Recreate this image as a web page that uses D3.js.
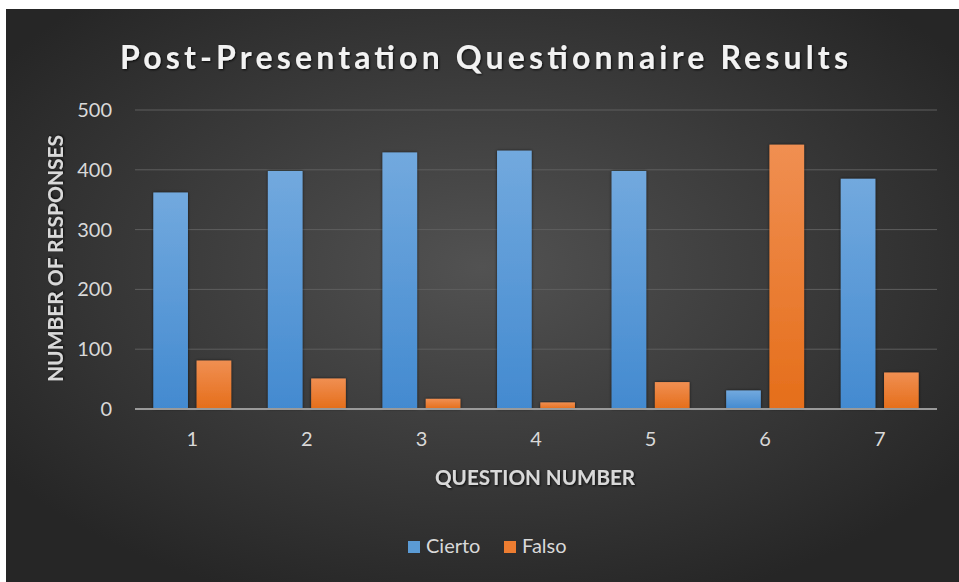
<!DOCTYPE html>
<html>
<head>
<meta charset="utf-8">
<script src="https://cdn.jsdelivr.net/npm/d3@7"></script>
<style>
  body { margin: 0; background: #fff; }
  text { font-family: Lato, "Open Sans", sans-serif; }
</style>
</head>
<body>
<div id="chart-area"></div>
<script>
// data
const questions = ["1", "2", "3", "4", "5", "6", "7"];
const cierto = [362, 398, 429, 432, 398, 31, 385];
const falso = [81, 51, 17, 11, 45, 442, 61];
const seriesNames = ["Cierto", "Falso"];
const yTicks = [0, 100, 200, 300, 400, 500];

const width = 959, height = 582;
const margin = {top: 110, right: 22, bottom: 173, left: 135};

const svg = d3.select("#chart-area").append("svg")
    .attr("width", width)
    .attr("height", height);

const defs = svg.append("defs");

// background radial gradient
let bg = defs.append("radialGradient")
    .attr("id", "bg")
    .attr("cx", "50%").attr("cy", "45%").attr("r", "62%");
bg.append("stop").attr("offset", "0%").attr("stop-color", "#525252");
bg.append("stop").attr("offset", "100%").attr("stop-color", "#262626");

// bar gradients
let blue = defs.append("linearGradient").attr("id", "gBlue")
    .attr("x1", 0).attr("y1", 0).attr("x2", 0).attr("y2", 1);
blue.append("stop").attr("offset", "0%").attr("stop-color", "#72a9de");
blue.append("stop").attr("offset", "100%").attr("stop-color", "#438ad0");

let orange = defs.append("linearGradient").attr("id", "gOrange")
    .attr("x1", 0).attr("y1", 0).attr("x2", 0).attr("y2", 1);
orange.append("stop").attr("offset", "0%").attr("stop-color", "#f08f52");
orange.append("stop").attr("offset", "100%").attr("stop-color", "#e56e1a");

let shadow = defs.append("filter").attr("id", "shadow")
    .attr("x", "-20%").attr("y", "-20%").attr("width", "140%").attr("height", "140%");
shadow.append("feDropShadow")
    .attr("dx", 0).attr("dy", 0).attr("stdDeviation", 1.5)
    .attr("flood-color", "#000").attr("flood-opacity", 0.7);

let glow = defs.append("filter").attr("id", "glow")
    .attr("x", "-5%").attr("y", "-20%").attr("width", "110%").attr("height", "140%");
glow.append("feDropShadow")
    .attr("dx", 1).attr("dy", 1).attr("stdDeviation", 1)
    .attr("flood-color", "#000").attr("flood-opacity", 0.8);

svg.append("rect")
    .attr("x", 6).attr("y", 9)
    .attr("width", width - 6).attr("height", height - 9)
    .attr("fill", "url(#bg)");

// title, stretched to the original's width
svg.append("text")
    .attr("x", 120).attr("y", 69)
    .attr("font-size", 32)
    .attr("font-weight", "bold")
    .attr("fill", "#f2f2f2")
    .attr("filter", "url(#glow)")
    .attr("textLength", 728)
    .attr("lengthAdjust", "spacing")
    .text("Post-Presentation Questionnaire Results");

// scales
const x0 = d3.scaleBand()
    .domain(questions)
    .range([margin.left, width - margin.right])
    .paddingInner(0.32)
    .paddingOuter(0.16);

const x1 = d3.scaleBand()
    .domain(seriesNames)
    .range([0, x0.bandwidth()])
    .paddingInner(0.2);

const y = d3.scaleLinear()
    .domain([0, 500])
    .range([height - margin.bottom, margin.top]);

// gridlines
svg.append("g")
    .selectAll("line")
    .data(yTicks.filter(d => d > 0))
    .join("line")
    .attr("x1", margin.left).attr("x2", width - margin.right)
    .attr("y1", d => y(d)).attr("y2", d => y(d))
    .attr("stroke", "#5e5e5e")
    .attr("stroke-width", 1);

// y axis labels
const yAxis = d3.axisLeft(y).tickValues(yTicks).tickSize(0).tickPadding(23);
svg.append("g")
    .attr("class", "y-axis")
    .attr("transform", "translate(" + margin.left + ",0)")
    .call(yAxis)
    .call(g => g.select(".domain").remove())
    .selectAll("text")
    .attr("font-size", 20)
    .attr("fill", "#d9d9d9")
    .attr("font-family", "Lato, sans-serif");

// bars
const data = questions.map((q, i) => ({q: q, values: [
    {key: "Cierto", value: cierto[i]},
    {key: "Falso", value: falso[i]}
]}));

const groups = svg.append("g")
    .selectAll("g")
    .data(data)
    .join("g")
    .attr("transform", d => "translate(" + x0(d.q) + ",0)");

groups.selectAll("rect")
    .data(d => d.values)
    .join("rect")
    .attr("x", d => x1(d.key))
    .attr("y", d => y(d.value))
    .attr("width", x1.bandwidth())
    .attr("height", d => y(0) - y(d.value))
    .attr("fill", d => d.key == "Cierto" ? "url(#gBlue)" : "url(#gOrange)")
    .attr("filter", "url(#shadow)");

// x axis
const xAxis = d3.axisBottom(x0).tickSize(0).tickPadding(23);
svg.append("g")
    .attr("class", "x-axis")
    .attr("transform", "translate(0," + y(0) + ")")
    .call(xAxis)
    .call(g => g.select(".domain")
        .attr("stroke", "#9a9a9a")
        .attr("stroke-width", 2)
        .attr("d", "M" + margin.left + ",0H" + (width - margin.right)))
    .selectAll("text")
    .attr("font-size", 20)
    .attr("fill", "#d9d9d9")
    .attr("font-family", "Lato, sans-serif");

// axis titles
svg.append("text")
    .attr("x", 435)
    .attr("y", 485)
    .attr("font-size", 20)
    .attr("font-weight", "bold")
    .attr("fill", "#d9d9d9")
    .attr("filter", "url(#glow)")
    .attr("textLength", 200)
    .attr("lengthAdjust", "spacingAndGlyphs")
    .text("QUESTION NUMBER");

svg.append("text")
    .attr("transform", "translate(63,382) rotate(-90)")
    .attr("font-size", 20)
    .attr("font-weight", "bold")
    .attr("fill", "#d9d9d9")
    .attr("filter", "url(#glow)")
    .attr("textLength", 247)
    .attr("lengthAdjust", "spacingAndGlyphs")
    .text("NUMBER OF RESPONSES");

// legend
const legend = svg.append("g")
    .selectAll("g")
    .data(seriesNames)
    .join("g")
    .attr("transform", (d, i) => "translate(" + (408 + i * 96) + ",541)");

legend.append("rect")
    .attr("width", 12).attr("height", 12)
    .attr("fill", d => d == "Cierto" ? "#5b9bd5" : "#ed7d31");

legend.append("text")
    .attr("x", 18).attr("y", 12)
    .attr("font-size", 20)
    .attr("fill", "#d9d9d9")
    .text(d => d);
</script>
</body>
</html>
